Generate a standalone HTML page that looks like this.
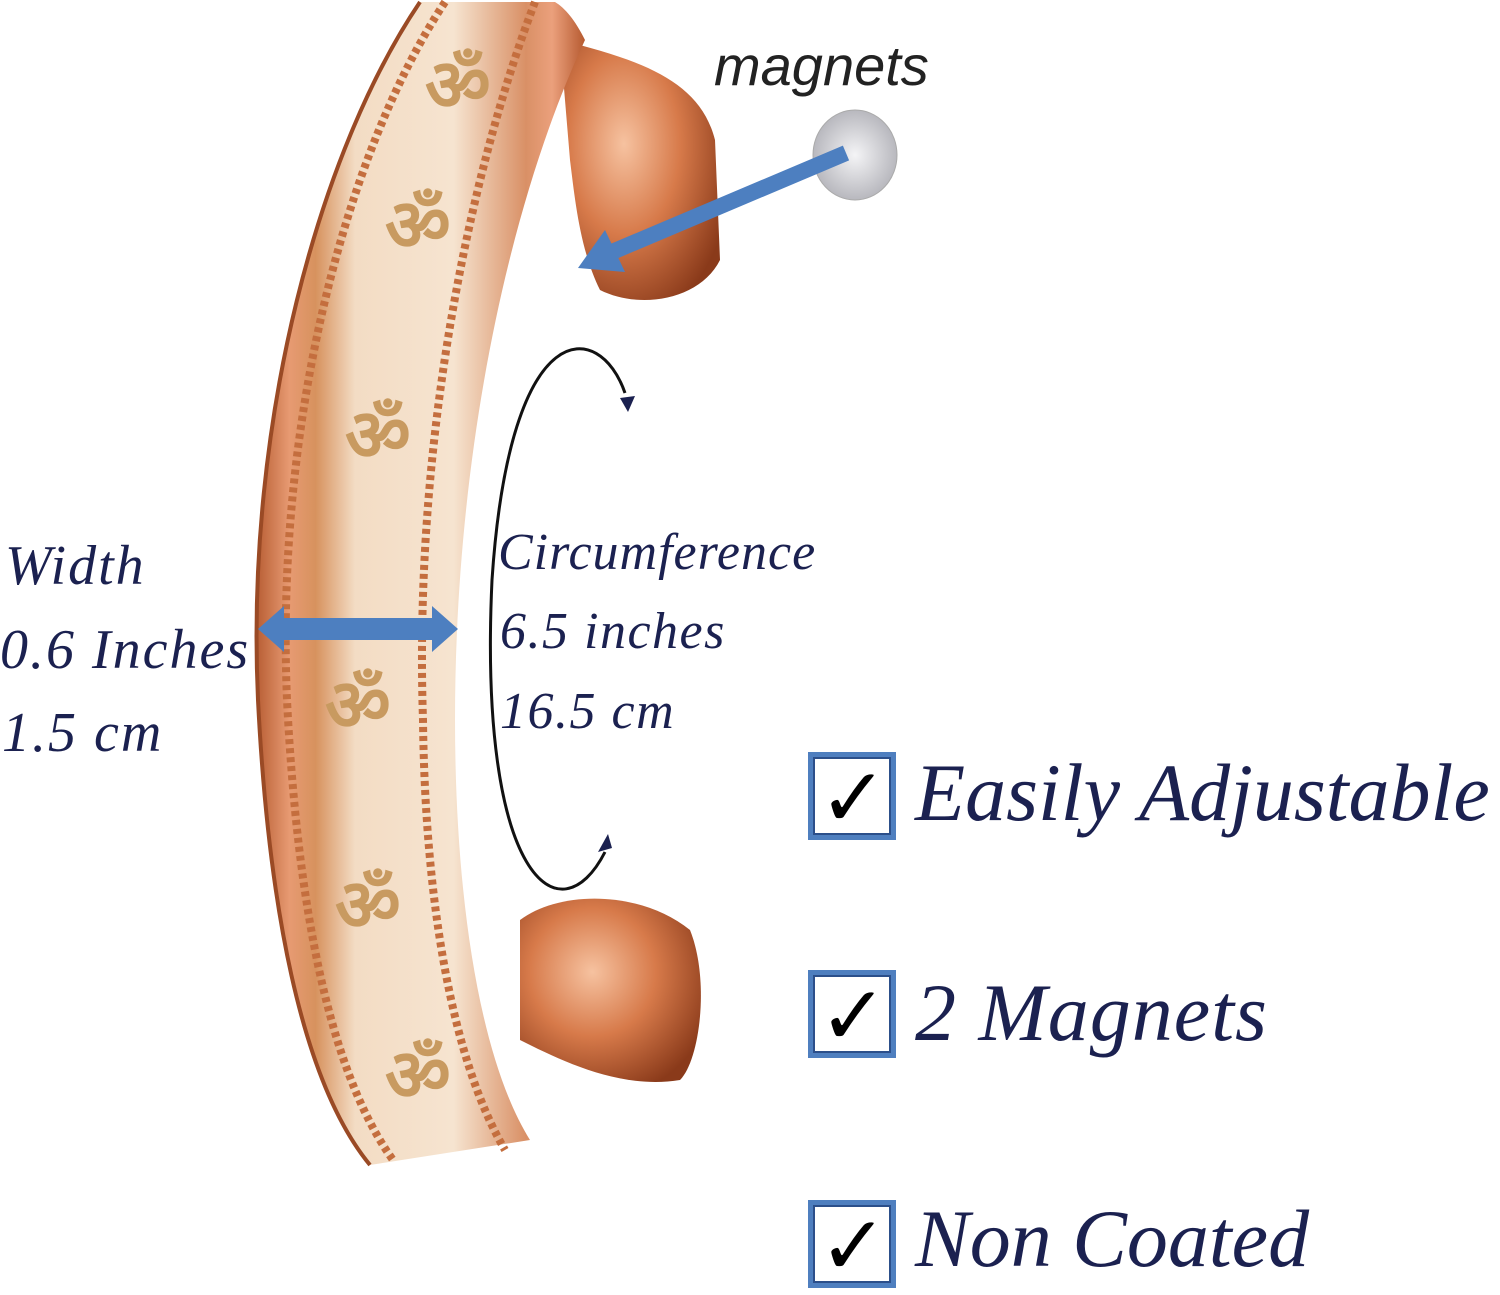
<!DOCTYPE html>
<html><head><meta charset="utf-8"><style>
html,body{margin:0;padding:0;background:#fff;}
body{width:1500px;height:1295px;position:relative;overflow:hidden;}
.t{position:absolute;font-family:"Liberation Serif",serif;font-style:italic;color:#1b2150;white-space:nowrap;line-height:1;}
.box{position:absolute;width:78px;height:78px;border:5px solid #4f7fbf;box-shadow:inset 0 0 0 2px #2c4f8a;background:#fff;}
.box span{position:absolute;left:6px;top:-6px;font-size:82px;font-weight:bold;color:#000;font-family:"DejaVu Sans",sans-serif;}
</style></head><body>
<svg width="1500" height="1295" style="position:absolute;left:0;top:0">
<defs>
<linearGradient id="band" x1="0" x2="1" y1="0" y2="0">
<stop offset="0" stop-color="#b85e34"/>
<stop offset="0.1" stop-color="#e79a72"/>
<stop offset="0.18" stop-color="#d7925e"/>
<stop offset="0.3" stop-color="#f3dcc4"/>
<stop offset="0.6" stop-color="#f6e4d0"/>
<stop offset="0.82" stop-color="#d99066"/>
<stop offset="0.9" stop-color="#eba07c"/>
<stop offset="1" stop-color="#b65a30"/>
</linearGradient>
<radialGradient id="cu" cx="0.4" cy="0.4" r="0.7">
<stop offset="0" stop-color="#f6c2a0"/>
<stop offset="0.5" stop-color="#d77a4a"/>
<stop offset="1" stop-color="#8a3a1a"/>
</radialGradient>
<radialGradient id="mag" cx="0.5" cy="0.5" r="0.5">
<stop offset="0" stop-color="#f4f4f6"/>
<stop offset="1" stop-color="#b8b8be"/>
</radialGradient>
</defs>
<path d="M560 40 C640 60 700 80 715 140 L720 260 C700 300 640 310 600 290 C580 250 575 200 570 160 Z" fill="url(#cu)"/>
<path d="M520 920 C560 890 640 890 690 930 C710 980 700 1060 680 1080 C620 1090 560 1060 520 1040 Z" fill="url(#cu)"/>
<path d="M420 2 C320 150 245 420 258 700 C268 900 300 1080 370 1165 L530 1140 C480 1060 455 900 455 720 C455 450 510 200 585 40 C575 20 565 8 555 2 Z" fill="url(#band)"/>
<path d="M420 2 C320 150 245 420 258 700 C268 900 300 1080 370 1165" fill="none" stroke="#9a4a25" stroke-width="4"/>
<path d="M445 2 C347 150 275 420 287 700 C297 900 328 1070 393 1160" fill="none" stroke="#c46e3e" stroke-width="8" stroke-dasharray="5 4"/>
<path d="M535 2 C478 150 413 420 423 720 C425 900 452 1060 505 1150" fill="none" stroke="#c46e3e" stroke-width="8" stroke-dasharray="5 4"/>
<g font-family="Liberation Serif,serif" font-size="72" fill="#c89a60" font-weight="bold">
<text x="425" y="110">ॐ</text>
<text x="385" y="250">ॐ</text>
<text x="345" y="460">ॐ</text>
<text x="325" y="730">ॐ</text>
<text x="335" y="930">ॐ</text>
<text x="385" y="1100">ॐ</text>
</g>
<ellipse cx="855" cy="155" rx="42" ry="45" fill="url(#mag)" stroke="#aaa"/>
<line x1="846" y1="153" x2="612" y2="252" stroke="#4d7fc0" stroke-width="16"/>
<polygon points="578,268 605,230 625,272" fill="#4d7fc0"/>
<rect x="282" y="618" width="152" height="22" fill="#4d7fc0"/>
<polygon points="258,629 284,606 284,652" fill="#4d7fc0"/>
<polygon points="458,629 432,606 432,652" fill="#4d7fc0"/>
<path d="M625 393 C600 320 510 310 492 580 C478 880 560 940 605 852" fill="none" stroke="#111" stroke-width="3"/>
<polygon points="620,398 635,396 628,412" fill="#1b2150"/>
<polygon points="598,852 612,848 608,834" fill="#1b2150"/>
</svg>
<div class="t" style="left:714px;top:38px;font-family:'Liberation Sans',sans-serif;font-size:56px;color:#222;">magnets</div>
<div class="t" style="left:5px;top:538px;font-size:56px;letter-spacing:2px;">Width</div>
<div class="t" style="left:0px;top:622px;font-size:56px;letter-spacing:2px;">0.6 Inches</div>
<div class="t" style="left:2px;top:705px;font-size:56px;letter-spacing:2px;">1.5 cm</div>
<div class="t" style="left:498px;top:527px;font-size:52px;letter-spacing:1px;">Circumference</div>
<div class="t" style="left:500px;top:606px;font-size:52px;letter-spacing:1.5px;">6.5 inches</div>
<div class="t" style="left:500px;top:686px;font-size:52px;letter-spacing:1.5px;">16.5 cm</div>
<div class="box" style="left:808px;top:752px;"><span>✓</span></div>
<div class="box" style="left:808px;top:970px;"><span>✓</span></div>
<div class="box" style="left:808px;top:1200px;"><span>✓</span></div>
<div class="t" style="left:915px;top:752px;font-size:82px;">Easily Adjustable</div>
<div class="t" style="left:915px;top:972px;font-size:82px;letter-spacing:1px;">2 Magnets</div>
<div class="t" style="left:915px;top:1198px;font-size:82px;">Non Coated</div>
</body></html>
